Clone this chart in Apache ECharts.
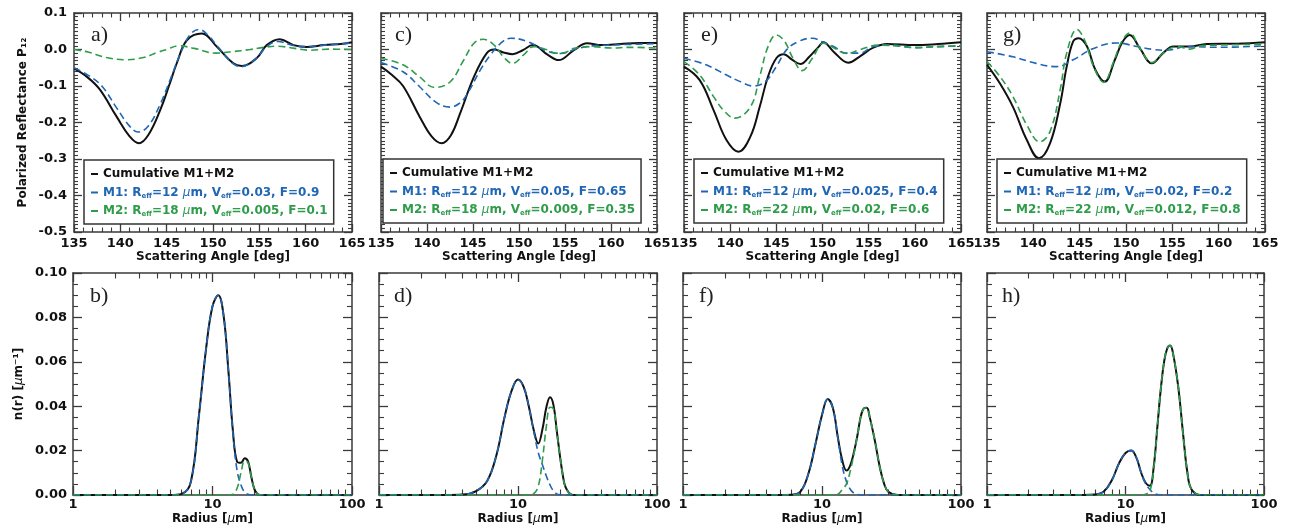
<!DOCTYPE html>
<html>
<head>
<meta charset="utf-8">
<script src="https://cdn.jsdelivr.net/npm/echarts@6/dist/echarts.min.js"></script>
<style>
  html, body { margin: 0; padding: 0; background: #fff; }
  #wrap { position: relative; width: 1294px; height: 531px; }
  .panel { position: absolute; left: 0; top: 0; width: 1294px; height: 531px; }
</style>
</head>
<body>
<div id="wrap"></div>
<script>
// ---- polarized reflectance (top row), [angle, P12] ----
const cumA = [[135,-0.052],[136.5,-0.077],[137.8,-0.11],[139.6,-0.184],[141,-0.238],[142,-0.257],[143,-0.235],[144.3,-0.166],[145.3,-0.096],[146.1,-0.037],[147.2,0.026],[148.8,0.044],[150.4,0.008],[152.2,-0.038],[153.1,-0.045],[154.7,-0.024],[155.8,0.012],[157.2,0.028],[158.7,0.012],[160.1,0.007],[162,0.012],[164,0.016],[165,0.02]];
const m1A = [[135,-0.05],[136.5,-0.07],[138,-0.1],[139.6,-0.16],[141,-0.21],[141.9,-0.226],[143,-0.21],[144.3,-0.15],[145.5,-0.075],[146.5,-0.01],[147.5,0.04],[148.5,0.055],[149.5,0.038],[150.5,0.008],[152,-0.035],[153,-0.047],[154.5,-0.028],[155.8,0.008],[157,0.022],[158.5,0.012],[160,0.008],[162,0.012],[165,0.018]];
const m2A = [[135,0],[136.5,-0.007],[138.5,-0.022],[140.5,-0.028],[142.5,-0.022],[144,-0.008],[145,0],[146.3,0.01],[148,0.003],[150.3,-0.01],[152,-0.006],[154,0],[155.5,0.006],[157,0.009],[158.8,0.003],[160.5,-0.002],[162.5,0.001],[165,0]];

const cumC = [[135,-0.047],[136.2,-0.07],[137.4,-0.1],[139.2,-0.184],[140.5,-0.238],[141.6,-0.257],[142.6,-0.235],[143.6,-0.175],[145.1,-0.075],[146.5,-0.01],[147.3,0],[148.3,-0.008],[149.3,-0.013],[150.4,-0.002],[151.5,0.012],[153.1,-0.014],[154.3,-0.029],[156,-0.001],[157.4,0.017],[159,0.012],[161,0.015],[163,0.018],[165,0.018]];
const m1C = [[135,-0.036],[137.4,-0.061],[139.2,-0.102],[141,-0.145],[142.5,-0.158],[143.5,-0.148],[144.3,-0.125],[145.8,-0.056],[146.9,-0.015],[148,0.017],[149.1,0.031],[150.9,0.022],[153.1,-0.005],[154.5,-0.011],[156.4,0.003],[158,0.01],[160,0.012],[162,0.014],[165,0.016]];
const m2C = [[135,-0.024],[137.4,-0.042],[139.2,-0.075],[140.8,-0.104],[142.5,-0.089],[143.9,-0.033],[145.1,0.017],[146.1,0.028],[147.3,0.012],[148.3,-0.02],[149.3,-0.038],[150.5,-0.015],[151.6,0.008],[153.1,-0.001],[154,-0.01],[155,-0.008],[156,0.003],[158,0.008],[160,0.004],[162,0.006],[165,0.004]];

const cumE = [[135,-0.047],[136.7,-0.084],[138.2,-0.166],[139.6,-0.248],[140.9,-0.28],[142.2,-0.238],[143.2,-0.157],[144.1,-0.074],[145,-0.024],[145.8,-0.013],[146.7,-0.028],[147.6,-0.04],[148.6,-0.019],[149.6,0.008],[150.1,0.02],[151.2,-0.006],[152.8,-0.036],[154.1,-0.018],[155.5,0.005],[157,0.015],[160,0.012],[162.5,0.015],[165,0.02]];
const m1E = [[135,-0.024],[137.4,-0.042],[139.6,-0.07],[141.1,-0.088],[142.5,-0.1],[143.8,-0.088],[145,-0.047],[146.1,-0.001],[147.4,0.022],[148.9,0.031],[149.9,0.022],[151.2,0.008],[152.6,-0.01],[154.1,-0.01],[155.5,0.008],[157.5,0.012],[160,0.005],[162.5,0.008],[165,0.01]];
const m2E = [[135,-0.033],[136.7,-0.07],[138.2,-0.129],[139.4,-0.17],[140.5,-0.188],[142.2,-0.157],[143.2,-0.074],[144.1,0.008],[145,0.04],[145.9,0.022],[146.8,-0.024],[147.8,-0.058],[148.9,-0.024],[150.1,0.017],[151.2,0.005],[152.6,-0.011],[154.1,0],[156,0.012],[158,0.01],[160,0.005],[162.5,0.008],[165,0.01]];

const cumG = [[135,-0.042],[136.4,-0.093],[137.8,-0.157],[139.3,-0.248],[140.6,-0.298],[141.8,-0.257],[142.9,-0.148],[143.6,-0.047],[144.3,0.022],[144.9,0.031],[145.8,0.008],[146.7,-0.056],[147.7,-0.088],[148.8,-0.028],[149.6,0.02],[150.4,0.04],[151.5,0.003],[152.8,-0.038],[154,-0.01],[155.1,0.008],[156.9,0.008],[158.7,0.015],[162,0.016],[165,0.02]];
const m1G = [[135,-0.006],[137.8,-0.02],[140.3,-0.038],[142.5,-0.047],[144.3,-0.028],[146.5,0.003],[149,0.018],[151.2,0.008],[153,0],[154.4,-0.002],[156.6,0.008],[160,0.006],[165,0.01]];
const m2G = [[135,-0.033],[136.4,-0.074],[137.8,-0.129],[139.3,-0.207],[140.7,-0.253],[141.8,-0.225],[142.9,-0.11],[143.6,-0.01],[144.7,0.055],[145.6,0.022],[146.5,-0.047],[147.6,-0.09],[148.6,-0.038],[149.5,0.02],[150.4,0.045],[151.5,0.003],[152.8,-0.036],[154,-0.01],[155.5,0.008],[156.9,0.001],[158,0.01],[160,0.012],[165,0.015]];

// ---- size distributions (bottom row), n(r) on a shared radius list ----
const radius = [1, 3, 4, 5, 6, 7, 8, 9, 10, 11, 12, 13, 14, 15, 16, 17, 18, 19, 20, 21, 22, 24, 26, 28, 30, 35, 40, 100];
const cumB = [0,0,0,0,0.0005,0.006,0.036,0.066,0.085,0.090,0.081,0.056,0.029,0.015,0.0145,0.0165,0.015,0.008,0.0025,0.0005,0,0,0,0,0,0,0,0];
const m1B  = [0,0,0,0,0.0005,0.006,0.036,0.066,0.085,0.090,0.081,0.056,0.028,0.011,0.0045,0.0012,0.0003,0,0,0,0,0,0,0,0,0,0,0];
const m2B  = [0,0,0,0,0,0,0,0,0,0,0,0,0.0003,0.003,0.010,0.0153,0.0145,0.008,0.0025,0.0005,0,0,0,0,0,0,0,0];
const cumD = [0,0,0.0002,0.0018,0.0063,0.018,0.035,0.047,0.052,0.0486,0.0395,0.029,0.0232,0.0297,0.0395,0.044,0.0405,0.029,0.018,0.009,0.0035,0.0003,0,0,0,0,0,0];
const m1D  = [0,0,0.0002,0.0018,0.0063,0.018,0.035,0.047,0.052,0.0486,0.0395,0.0285,0.019,0.0135,0.0085,0.0045,0.0018,0.0005,0.0001,0,0,0,0,0,0,0,0,0];
const m2D  = [0,0,0,0,0,0,0,0,0,0,0,0.0006,0.004,0.016,0.031,0.0395,0.0387,0.0285,0.018,0.009,0.0035,0.0003,0,0,0,0,0,0];
const cumF = [0,0,0,0,0.0001,0.0015,0.0098,0.0233,0.036,0.0432,0.039,0.026,0.0155,0.011,0.0135,0.0195,0.027,0.0353,0.039,0.0393,0.0353,0.0245,0.0128,0.005,0.0015,0,0,0];
const m1F  = [0,0,0,0,0.0001,0.0015,0.0098,0.0233,0.036,0.0432,0.039,0.0258,0.013,0.006,0.0025,0.0008,0.0002,0,0,0,0,0,0,0,0,0,0,0];
const m2F  = [0,0,0,0,0,0,0,0,0,0,0,0.0003,0.0025,0.005,0.011,0.0188,0.027,0.0353,0.039,0.0393,0.0353,0.0245,0.0128,0.005,0.0015,0,0,0];
const cumH = [0,0,0,0,0.0002,0.0017,0.0069,0.0144,0.0189,0.0201,0.0167,0.0099,0.0054,0.0042,0.0129,0.031,0.048,0.060,0.066,0.0673,0.064,0.049,0.028,0.010,0.0025,0,0,0];
const m1H  = [0,0,0,0,0.0002,0.0017,0.0069,0.0144,0.0189,0.0201,0.0167,0.0099,0.005,0.0025,0.0008,0.0002,0,0,0,0,0,0,0,0,0,0,0,0];
const m2H  = [0,0,0,0,0,0,0,0,0,0,0,0,0.0004,0.0017,0.012,0.0308,0.048,0.060,0.066,0.0673,0.064,0.049,0.028,0.010,0.0025,0,0,0];

// ---- legend texts ----
const legendLabels = {
  'a-cum': 'Cumulative M1+M2',
  'a-m1': 'M1: R{s|eff}=12 {mu|μ}m, V{s|eff}=0.03, F=0.9',
  'a-m2': 'M2: R{s|eff}=18 {mu|μ}m, V{s|eff}=0.005, F=0.1',
  'c-cum': 'Cumulative M1+M2',
  'c-m1': 'M1: R{s|eff}=12 {mu|μ}m, V{s|eff}=0.05, F=0.65',
  'c-m2': 'M2: R{s|eff}=18 {mu|μ}m, V{s|eff}=0.009, F=0.35',
  'e-cum': 'Cumulative M1+M2',
  'e-m1': 'M1: R{s|eff}=12 {mu|μ}m, V{s|eff}=0.025, F=0.4',
  'e-m2': 'M2: R{s|eff}=22 {mu|μ}m, V{s|eff}=0.02, F=0.6',
  'g-cum': 'Cumulative M1+M2',
  'g-m1': 'M1: R{s|eff}=12 {mu|μ}m, V{s|eff}=0.02, F=0.2',
  'g-m2': 'M2: R{s|eff}=22 {mu|μ}m, V{s|eff}=0.012, F=0.8'
};

const FONT = 'DejaVu Sans';
const BLACK = '#111';
const BLUE = '#1f66b5';
const GREEN = '#2e9c4a';
const AXIS = '#3a3a3a';

const topPanels = [
  { id: 'a', left: 74, width: 278, lg: 84, lt: 160, labelLeft: 91, cum: cumA, m1: m1A, m2: m2A },
  { id: 'c', left: 381, width: 276, lg: 383, lt: 159, labelLeft: 395, cum: cumC, m1: m1C, m2: m2C },
  { id: 'e', left: 684, width: 277, lg: 694, lt: 159, labelLeft: 701, cum: cumE, m1: m1E, m2: m2E },
  { id: 'g', left: 987, width: 278, lg: 997, lt: 159, labelLeft: 1003, cum: cumG, m1: m1G, m2: m2G }
];
const bottomPanels = [
  { id: 'b', left: 73, width: 279, labelLeft: 90, cum: cumB, m1: m1B, m2: m2B },
  { id: 'd', left: 379, width: 278, labelLeft: 394, cum: cumD, m1: m1D, m2: m2D },
  { id: 'f', left: 683, width: 278, labelLeft: 699, cum: cumF, m1: m1F, m2: m2F },
  { id: 'h', left: 987, width: 277, labelLeft: 1002, cum: cumH, m1: m1H, m2: m2H }
];

const labelStyle = { fontFamily: FONT, fontWeight: 'bold', fontSize: 13, color: BLACK };
const nameStyle = {
  fontFamily: FONT, fontWeight: 'bold', fontSize: 12, color: BLACK,
  rich: { mu: { fontFamily: FONT, fontStyle: 'italic', fontWeight: 'normal', fontSize: 12, color: BLACK } }
};

function tickCfg(len, minorLen, split) {
  return {
    axisLine: { show: true, onZero: false, lineStyle: { color: AXIS, width: 1.5 } },
    axisTick: { show: true, inside: true, length: len, lineStyle: { color: AXIS, width: 1.3 } },
    minorTick: { show: true, splitNumber: split, length: minorLen, lineStyle: { color: AXIS, width: 1.1 } },
    splitLine: { show: false },
    minorSplitLine: { show: false }
  };
}

function makeLines(prefix, cum, m1, m2) {
  const base = { type: 'line', xAxisIndex: 0, yAxisIndex: 0, showSymbol: false, smooth: 0.4, silent: true };
  return [
    Object.assign({}, base, { name: prefix + '-cum', data: cum, color: BLACK, lineStyle: { color: BLACK, width: 2 } }),
    Object.assign({}, base, { name: prefix + '-m1', data: m1, color: BLUE, lineStyle: { color: BLUE, width: 1.6, type: [7, 4] } }),
    Object.assign({}, base, { name: prefix + '-m2', data: m2, color: GREEN, lineStyle: { color: GREEN, width: 1.6, type: [7, 4] } })
  ];
}

function panelTitle(p, top) {
  return { text: p.id + ')', left: p.labelLeft, top: top, padding: 0,
    textStyle: { fontFamily: 'Liberation Serif', fontWeight: 'normal', fontSize: 22, color: '#222' } };
}

// one chart instance per panel, all stacked on the same 1294x531 area
function mount(option) {
  const el = document.createElement('div');
  el.className = 'panel';
  document.getElementById('wrap').appendChild(el);
  echarts.init(el).setOption(option);
}

topPanels.forEach((p, i) => {
  const xRange = { type: 'value', min: 135, max: 165, interval: 5 };
  const yRange = { type: 'value', min: -0.5, max: 0.1, interval: 0.1 };
  const yLeft = Object.assign({}, yRange, tickCfg(8, 4, 10), {
    position: 'left',
    axisLabel: Object.assign({ show: i === 0, margin: 7, formatter: v => v.toFixed(1) }, labelStyle)
  });
  if (i === 0) {
    Object.assign(yLeft, { name: 'Polarized Reflectance P₁₂', nameLocation: 'middle', nameGap: 45, nameTextStyle: nameStyle });
  }
  mount({
    animation: false,
    title: [panelTitle(p, 24)],
    grid: [{ left: p.left, top: 13, width: p.width, height: 219 }],
    xAxis: [
      Object.assign({}, xRange, tickCfg(8, 4.5, 5), {
        position: 'bottom',
        axisLabel: Object.assign({ margin: 5, showMinLabel: true, showMaxLabel: true }, labelStyle),
        name: 'Scattering Angle [deg]', nameLocation: 'middle', nameGap: 18, nameTextStyle: nameStyle
      }),
      Object.assign({}, xRange, tickCfg(8, 4.5, 5), { position: 'top', axisLabel: { show: false } })
    ],
    yAxis: [yLeft, Object.assign({}, yRange, tickCfg(8, 4, 10), { position: 'right', axisLabel: { show: false } })],
    legend: [{
      left: p.lg, top: p.lt, orient: 'vertical', selectedMode: false,
      icon: 'rect', itemWidth: 7, itemHeight: 2, itemGap: 4.5,
      padding: [7, 6, 6, 7],
      borderColor: '#333', borderWidth: 1.5, backgroundColor: '#fff',
      data: [
        { name: p.id + '-cum', textStyle: { color: BLACK } },
        { name: p.id + '-m1', textStyle: { color: BLUE } },
        { name: p.id + '-m2', textStyle: { color: GREEN } }
      ],
      formatter: n => legendLabels[n],
      textStyle: {
        fontFamily: FONT, fontWeight: 'bold', fontSize: 12, lineHeight: 14,
        rich: {
          s: { fontFamily: FONT, fontWeight: 'bold', fontSize: 7, lineHeight: 8, verticalAlign: 'bottom' },
          mu: { fontFamily: FONT, fontStyle: 'italic', fontWeight: 'normal', fontSize: 12, lineHeight: 14 }
        }
      }
    }],
    series: makeLines(p.id, p.cum, p.m1, p.m2)
  });
});

bottomPanels.forEach((p, i) => {
  const xRange = { type: 'log', logBase: 10, min: 1, max: 100 };
  const yRange = { type: 'value', min: 0, max: 0.1, interval: 0.02 };
  const yLeft = Object.assign({}, yRange, tickCfg(9, 5, 4), {
    position: 'left',
    axisLabel: Object.assign({ show: i === 0, margin: 6, formatter: v => v.toFixed(2) }, labelStyle)
  });
  if (i === 0) {
    Object.assign(yLeft, { name: 'n(r) [{mu|μ}m⁻¹]', nameLocation: 'middle', nameGap: 48, nameTextStyle: nameStyle });
  }
  const toPts = vals => radius.map((r, k) => [r, vals[k]]);
  mount({
    animation: false,
    title: [panelTitle(p, 285)],
    grid: [{ left: p.left, top: 273, width: p.width, height: 222 }],
    xAxis: [
      Object.assign({}, xRange, tickCfg(9, 5.5, 9), {
        position: 'bottom',
        axisLabel: Object.assign({ margin: 3, showMinLabel: true, showMaxLabel: true }, labelStyle),
        name: 'Radius [{mu|μ}m]', nameLocation: 'middle', nameGap: 18, nameTextStyle: nameStyle
      }),
      Object.assign({}, xRange, tickCfg(9, 5.5, 9), { position: 'top', axisLabel: { show: false } })
    ],
    yAxis: [yLeft, Object.assign({}, yRange, tickCfg(9, 5, 4), { position: 'right', axisLabel: { show: false } })],
    series: makeLines(p.id, toPts(p.cum), toPts(p.m1), toPts(p.m2))
  });
});
</script>
</body>
</html>
